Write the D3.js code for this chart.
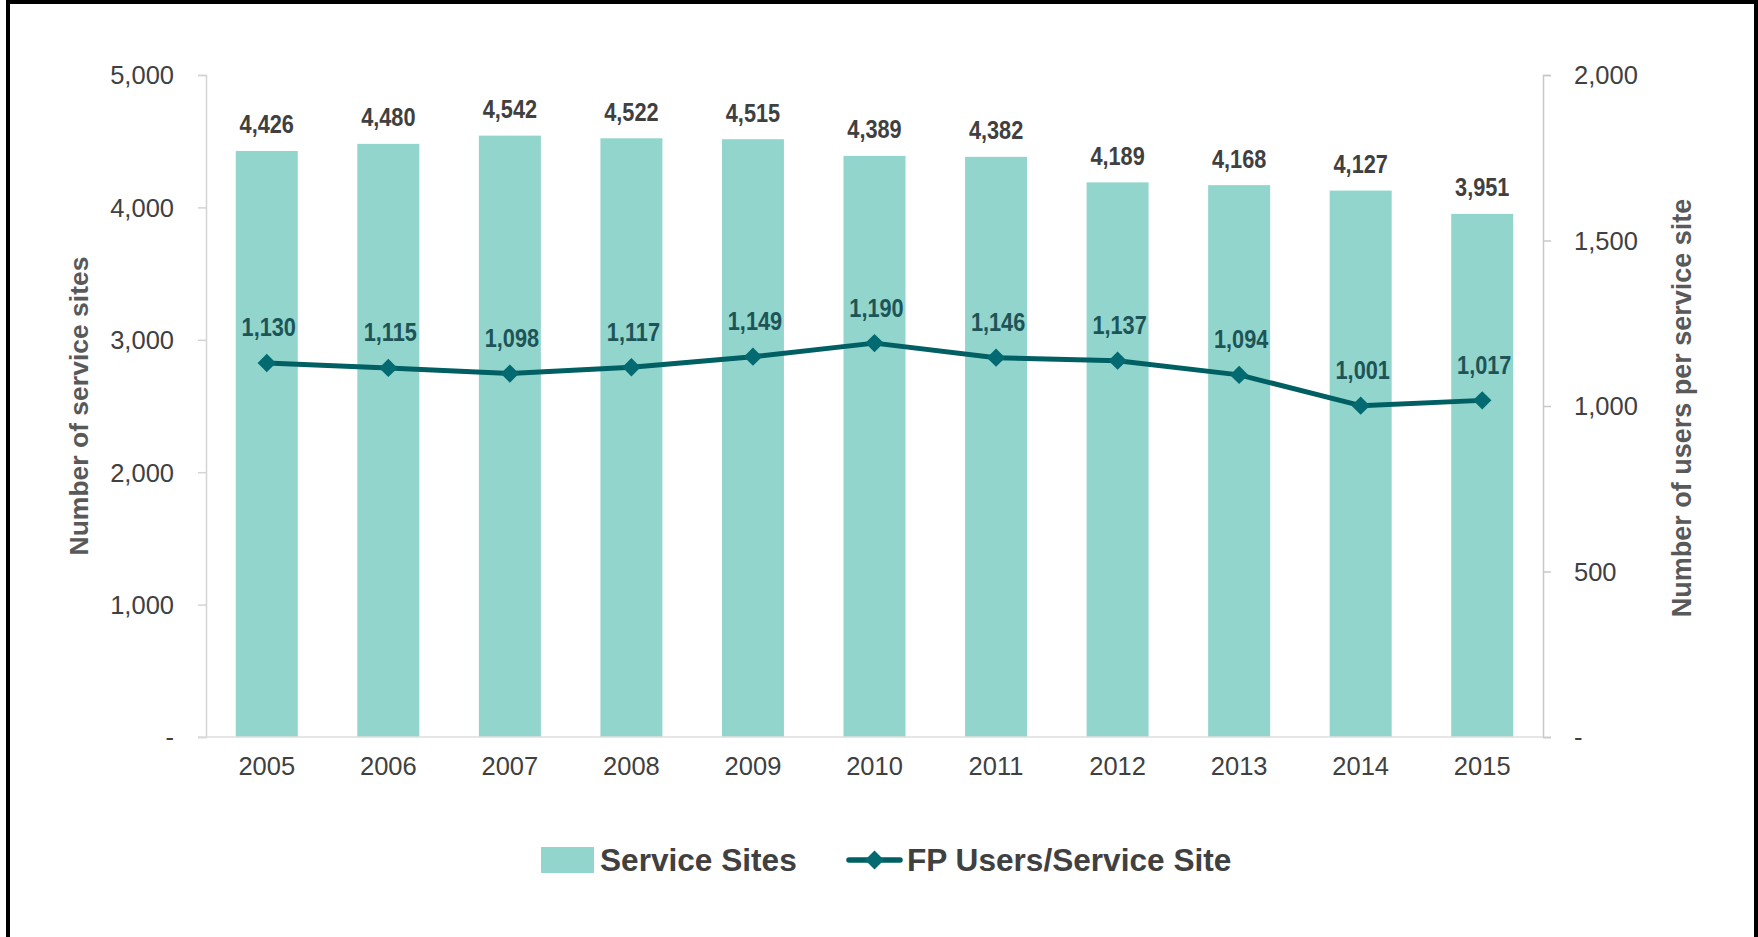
<!DOCTYPE html>
<html>
<head>
<meta charset="utf-8">
<script src="https://cdn.jsdelivr.net/npm/d3@7"></script>
<style>
  html, body { margin: 0; padding: 0; background: #fff; }
  svg { display: block; }
</style>
</head>
<body>
<svg id="chart" width="1758" height="937"></svg>
<script>
// Service sites and users per site, 2005–2015
const years = ["2005", "2006", "2007", "2008", "2009", "2010", "2011", "2012", "2013", "2014", "2015"];
const serviceSites = [4426, 4480, 4542, 4522, 4515, 4389, 4382, 4189, 4168, 4127, 3951];
const usersPerSite = [1130, 1115, 1098, 1117, 1149, 1190, 1146, 1137, 1094, 1001, 1017];
const leftTicks = [0, 1000, 2000, 3000, 4000, 5000];
const rightTicks = [0, 500, 1000, 1500, 2000];
const seriesNames = ["Service Sites", "FP Users/Service Site"];
const axisTitles = ["Number of service sites", "Number of users per service site"];

const BAR = "#92d5cd";
const LINE = "#005f63";
const MARK = "#026a70";
const LINE_LABEL = "#1d5457";
const TEXT = "#404040";
const TITLE = "#595959";

const svg = d3.select("#chart");

// Pick a condensed bold face for data labels if one is installed
function measure(family, weight) {
  const t = svg.append("text").attr("font-family", family).attr("font-weight", weight)
    .attr("font-size", 100).text("4,426");
  const w = t.node().getComputedTextLength();
  t.remove();
  return w;
}
const wideW = measure("'Liberation Sans', Arial, sans-serif", "bold");
const narrowW = measure("'Liberation Sans Narrow', 'Arial Narrow', 'Liberation Sans', sans-serif", "bold");
const hasNarrow = narrowW < wideW * 0.92;
const labelFamily = hasNarrow ? "'Liberation Sans Narrow', 'Arial Narrow', sans-serif" : "'Liberation Sans', Arial, sans-serif";
const labelStretch = hasNarrow ? 1 : 0.82;

const font = "'Liberation Sans', Arial, Helvetica, sans-serif";

// Outer frame
svg.append("rect")
  .attr("x", 8).attr("y", 2).attr("width", 1748).attr("height", 970)
  .attr("fill", "none").attr("stroke", "#000").attr("stroke-width", 4);

const plot = { left: 206, right: 1543, top: 75, bottom: 737 };

const x = d3.scaleBand().domain(years)
  .range([plot.left, plot.right])
  .paddingInner(0.49).paddingOuter(0.245);
const yL = d3.scaleLinear().domain([0, 5000]).range([plot.bottom, plot.top]);
const yR = d3.scaleLinear().domain([0, 2000]).range([plot.bottom, plot.top]);

const fmt = v => v === 0 ? "-" : d3.format(",")(v);

// Left axis
const axL = svg.append("g").attr("transform", `translate(${plot.left},0)`)
  .call(d3.axisLeft(yL).tickValues(leftTicks).tickFormat(fmt).tickSize(8).tickPadding(24));
axL.select(".domain").attr("stroke", "#d4d4d4").attr("stroke-width", 1.5);
axL.selectAll(".tick line").attr("stroke", "#d4d4d4").attr("stroke-width", 1.5);
axL.selectAll(".tick text").attr("font-family", font).attr("font-size", 25.5)
  .attr("fill", TEXT).attr("dy", "0.35em");

// Right axis
const axR = svg.append("g").attr("transform", `translate(${plot.right},0)`)
  .call(d3.axisRight(yR).tickValues(rightTicks).tickFormat(fmt).tickSize(8).tickPadding(23));
axR.select(".domain").attr("stroke", "#c8c8c8").attr("stroke-width", 1.5);
axR.selectAll(".tick line").attr("stroke", "#c8c8c8").attr("stroke-width", 1.5);
axR.selectAll(".tick text").attr("font-family", font).attr("font-size", 25.5)
  .attr("fill", TEXT).attr("dy", "0.35em");

// Bars
svg.append("g").selectAll("rect").data(serviceSites).join("rect")
  .attr("x", (d, i) => x(years[i]))
  .attr("width", x.bandwidth())
  .attr("y", d => yL(d))
  .attr("height", d => yL(0) - yL(d))
  .attr("fill", BAR);

// Bottom axis
const axB = svg.append("g").attr("transform", `translate(0,${plot.bottom})`)
  .call(d3.axisBottom(x).tickSize(0).tickPadding(20));
axB.select(".domain").attr("stroke", "#dedede").attr("stroke-width", 1.5)
  .attr("d", `M${plot.left - 8},0H${plot.right}`);
axB.selectAll(".tick text").attr("font-family", font).attr("font-size", 25.5)
  .attr("fill", TEXT).attr("dy", "0.71em");

// Condensed label helper
function placeLabel(sel, cx, baseline) {
  sel.attr("transform", `translate(${cx},${baseline}) scale(${labelStretch},1)`)
    .attr("text-anchor", "middle")
    .attr("font-family", labelFamily).attr("font-weight", "bold").attr("font-size", 26.5);
}

// Bar value labels
svg.append("g").selectAll("text").data(serviceSites).join("text")
  .each(function (d, i) {
    placeLabel(d3.select(this), x(years[i]) + x.bandwidth() / 2, yL(d) - 17.5);
  })
  .attr("fill", TEXT)
  .text(d => d3.format(",")(d));

// Line series
const cx = i => x(years[i]) + x.bandwidth() / 2;
const line = d3.line().x((d, i) => cx(i)).y(d => yR(d));
svg.append("path").datum(usersPerSite)
  .attr("d", line).attr("fill", "none")
  .attr("stroke", LINE).attr("stroke-width", 5).attr("stroke-linejoin", "round");

const diamond = d3.symbol().type(d3.symbolDiamond2).size(215);
svg.append("g").selectAll("path").data(usersPerSite).join("path")
  .attr("transform", (d, i) => `translate(${cx(i)},${yR(d)})`)
  .attr("d", diamond).attr("fill", MARK);

svg.append("g").selectAll("text").data(usersPerSite).join("text")
  .each(function (d, i) {
    placeLabel(d3.select(this), cx(i) + 2, yR(d) - 26.5);
  })
  .attr("fill", LINE_LABEL)
  .text(d => d3.format(",")(d));

// Axis titles
svg.append("text")
  .attr("transform", `translate(88,406) rotate(-90)`)
  .attr("text-anchor", "middle")
  .attr("font-family", font).attr("font-weight", "bold").attr("font-size", 26.5)
  .attr("fill", TITLE).text(axisTitles[0]);
svg.append("text")
  .attr("transform", `translate(1691,408) rotate(-90)`)
  .attr("text-anchor", "middle")
  .attr("font-family", font).attr("font-weight", "bold").attr("font-size", 27)
  .attr("fill", TITLE).text(axisTitles[1]);

// Legend
const lg = svg.append("g");
lg.append("rect").attr("x", 541).attr("y", 847).attr("width", 53).attr("height", 26).attr("fill", BAR);
lg.append("text").attr("x", 600).attr("y", 871)
  .attr("font-family", font).attr("font-weight", "bold").attr("font-size", 31.6)
  .attr("fill", TEXT).text(seriesNames[0]);
lg.append("line").attr("x1", 849).attr("x2", 900).attr("y1", 860).attr("y2", 860)
  .attr("stroke", LINE).attr("stroke-width", 5.5).attr("stroke-linecap", "round");
lg.append("path").attr("transform", "translate(874.5,860)")
  .attr("d", d3.symbol().type(d3.symbolDiamond2).size(230)).attr("fill", MARK);
lg.append("text").attr("x", 907).attr("y", 871)
  .attr("font-family", font).attr("font-weight", "bold").attr("font-size", 31.6)
  .attr("fill", TEXT).text(seriesNames[1]);
</script>
</body>
</html>
